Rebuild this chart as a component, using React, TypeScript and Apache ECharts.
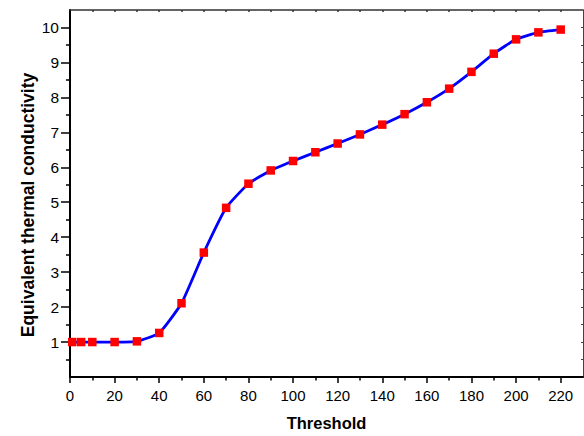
import React, { useEffect, useRef } from "react";
import * as echarts from "echarts";

const thresholds = [1, 5, 10, 20, 30, 40, 50, 60, 70, 80, 90, 100, 110, 120, 130, 140, 150, 160, 170, 180, 190, 200, 210, 220];
const conductivity = [1.0, 1.0, 1.0, 1.0, 1.02, 1.26, 2.11, 3.56, 4.84, 5.53, 5.91, 6.18, 6.43, 6.68, 6.94, 7.22, 7.52, 7.86, 8.25, 8.73, 9.25, 9.66, 9.86, 9.94];

const xMajorTicks = [0, 20, 40, 60, 80, 100, 120, 140, 160, 180, 200, 220];
const xMinorTicks = [10, 30, 50, 70, 90, 110, 130, 150, 170, 190, 210];
const xTopTicks = [10, 20, 30, 40, 50, 60, 70, 80, 90, 100, 110, 120, 130, 140, 150, 160, 170, 180, 190, 200, 210, 220];
const yMajorTicks = [1, 2, 3, 4, 5, 6, 7, 8, 9, 10];
const yMinorTicks = [0.5, 1.5, 2.5, 3.5, 4.5, 5.5, 6.5, 7.5, 8.5, 9.5];
const yRightTicks = [0.5, 1, 1.5, 2, 2.5, 3, 3.5, 4, 4.5, 5, 5.5, 6, 6.5, 7, 7.5, 8, 8.5, 9, 9.5, 10];

const xTitle = "Threshold";
const yTitle = "Equivalent thermal conductivity";

const FONT = "'Liberation Sans', Arial, sans-serif";

export default function App() {
  const ref = useRef<HTMLDivElement>(null);
  useEffect(() => {
    if (!ref.current) return;
    const chart = echarts.init(ref.current, null, { renderer: "svg" });
    const baseX = { type: "value", min: 0, max: 230, splitLine: { show: false }, gridIndex: 0 };
    const baseY = { type: "value", min: 0, max: 10.5, splitLine: { show: false }, gridIndex: 0 };
    chart.setOption({
      animation: false,
      backgroundColor: "#ffffff",
      grid: { left: 70, right: 1, top: 10, bottom: 54.5, containLabel: false },
      graphic: [
        {
          type: "text",
          x: 28,
          y: 205,
          rotation: Math.PI / 2,
          style: {
            text: yTitle,
            fontFamily: FONT,
            fontSize: 17.5,
            fontWeight: "bold",
            fill: "#000",
            textAlign: "center",
            textVerticalAlign: "middle",
          },
        },
      ],
      xAxis: [
        {
          ...baseX,
          position: "bottom",
          name: xTitle,
          nameLocation: "middle",
          nameGap: 37,
          nameTextStyle: { fontFamily: FONT, fontSize: 16.5, fontWeight: "bold", color: "#000" },
          axisLine: { show: true, onZero: false, lineStyle: { color: "#000", width: 2 } },
          axisTick: { show: true, customValues: xMajorTicks, length: 6, lineStyle: { color: "#000", width: 1.5 } },
          axisLabel: { customValues: xMajorTicks, fontFamily: FONT, fontSize: 15, color: "#000", margin: 11 },
        },
        {
          ...baseX,
          position: "bottom",
          axisLine: { show: false },
          axisTick: { show: true, customValues: xMinorTicks, length: 3.5, lineStyle: { color: "#000", width: 1.5 } },
          axisLabel: { show: false },
        },
        {
          ...baseX,
          position: "top",
          axisLine: { show: true, onZero: false, lineStyle: { color: "#333", width: 1.5 } },
          axisTick: { show: true, inside: true, customValues: xTopTicks, length: 2, lineStyle: { color: "#333", width: 1.5 } },
          axisLabel: { show: false },
        },
      ],
      yAxis: [
        {
          ...baseY,
          position: "left",
          axisLine: { show: true, onZero: false, lineStyle: { color: "#000", width: 2 } },
          axisTick: { show: true, customValues: yMajorTicks, length: 9, lineStyle: { color: "#000", width: 1.5 } },
          axisLabel: { customValues: yMajorTicks, fontFamily: FONT, fontSize: 15.5, color: "#000", margin: 11 },
        },
        {
          ...baseY,
          position: "left",
          axisLine: { show: false },
          axisTick: { show: true, customValues: yMinorTicks, length: 4, lineStyle: { color: "#000", width: 1.5 } },
          axisLabel: { show: false },
        },
        {
          ...baseY,
          position: "right",
          axisLine: { show: true, onZero: false, lineStyle: { color: "#444", width: 1 } },
          axisTick: { show: true, inside: true, customValues: yRightTicks, length: 2, lineStyle: { color: "#444", width: 1 } },
          axisLabel: { show: false },
        },
      ],
      series: [
        {
          type: "line",
          xAxisIndex: 0,
          yAxisIndex: 0,
          data: thresholds.map((t, i) => [t, conductivity[i]]),
          smooth: 0.15,
          symbol: "rect",
          symbolSize: 8.5,
          showSymbol: true,
          itemStyle: { color: "#ff0000" },
          lineStyle: { color: "#0000ff", width: 2.8 },
        },
      ],
    });
    return () => chart.dispose();
  }, []);
  return (
    <div
      ref={ref}
      style={{ position: "absolute", left: 0, top: 0, width: 584, height: 436, background: "#fff" }}
    />
  );
}
